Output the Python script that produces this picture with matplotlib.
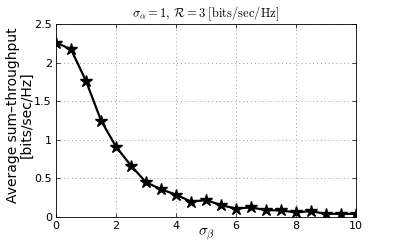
import matplotlib
matplotlib.use("Agg")
import matplotlib.pyplot as plt

sigma_beta = [0, 0.5, 1, 1.5, 2, 2.5, 3, 3.5, 4, 4.5, 5, 5.5, 6, 6.5, 7, 7.5, 8, 8.5, 9, 9.5, 10]
throughput = [2.26, 2.17, 1.76, 1.25, 0.91, 0.665, 0.45, 0.36, 0.29, 0.20, 0.22, 0.155,
              0.11, 0.125, 0.09, 0.086, 0.06, 0.078, 0.04, 0.043, 0.04]
xticks = [0, 2, 4, 6, 8, 10]
yticks = [0, 0.5, 1, 1.5, 2, 2.5]
yticklabels = ["0", "0.5", "1", "1.5", "2", "2.5"]

plt.rcParams['mathtext.fontset'] = 'cm'
fig = plt.figure(figsize=(3.95, 2.45), dpi=100)
ax = fig.add_axes([0.142, 0.114, 0.759, 0.788])
ax.plot(sigma_beta, throughput, color='black', lw=1.6, marker='*', markersize=9)
ax.set_xlim(0, 10)
ax.set_ylim(0, 2.5)
ax.set_xticks(xticks)
ax.set_yticks(yticks)
ax.set_yticklabels(yticklabels)
ax.tick_params(direction='in', labelsize=8, top=True, right=True, length=3, width=0.5, pad=3)
ax.grid(True, linestyle=(0, (1, 3)), color='#999999', lw=0.7)
for s in ax.spines.values():
    s.set_linewidth(0.6)
ax.set_xlabel(r'$\sigma_\beta$', fontsize=11, labelpad=-3)
ax.set_ylabel('Average sum\u2013throughput\n[bits/sec/Hz]', fontsize=10, linespacing=1.0)
ax.yaxis.set_label_coords(-0.075, 0.53)
ax.set_title(r'$\sigma_\alpha = 1,\, \mathcal{R} = 3\ \mathrm{[bits/sec/Hz]}$', fontsize=9, pad=5)
fig.savefig('out.png', dpi=100)
